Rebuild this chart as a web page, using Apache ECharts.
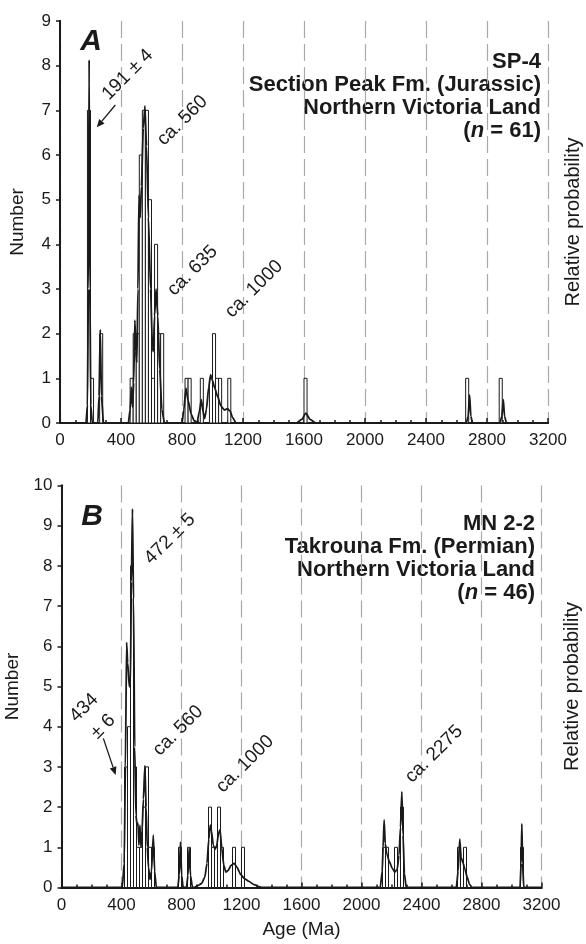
<!DOCTYPE html>
<html><head><meta charset="utf-8">
<script src="https://cdn.jsdelivr.net/npm/echarts@6/dist/echarts.min.js"></script>
<style>html,body{margin:0;padding:0;background:#fff}#c{width:586px;height:944px}</style>
</head><body><div id="c"></div>
<script>
// ---------- DATA ----------
const binWidth = 20; // Ma
// Panel A: SP-4
const binStartA = [180,200,260,460,480,500,520,540,560,580,600,620,640,660,820,840,920,980,1000,1020,1040,1100,1600,2660,2880];
const countA    = [7,1,2,1,2,2,6,7,7,5,1,4,2,2,1,1,1,1,2,1,1,1,1,1,1];
const curveAgeA = [0,170,180,186,191,196,202,212,248,256,264,272,285,448,460,468,476,483,491,498,504,511,518,526,534,546,557,567,580,594,606,612,620,630,641,654,668,685,800,812,826,840,860,880,900,913,927,938,948,960,975,988,1000,1015,1034,1055,1078,1098,1115,1132,1155,1550,1585,1612,1640,1678,2665,2676,2686,2694,2705,2885,2897,2907,2915,2928,3200];
const curveProbA= [0,0,0.4,3,8.13,3,0.4,0,0,0.6,2.09,0.6,0,0,0.3,0.8,0.35,0.9,2.3,1.6,1.35,3.0,5.1,4.6,5.3,6.6,7.1,6.2,4.6,3.0,1.7,1.6,2.4,3.0,2.4,1.2,0.3,0,0,0.3,0.78,0.5,0.2,0.05,0.02,0.25,0.52,0.25,0.1,0.3,0.8,1.08,0.95,0.78,0.59,0.38,0.29,0.32,0.27,0.12,0,0,0.08,0.22,0.08,0,0,0.15,0.63,0.15,0,0,0.15,0.52,0.15,0,0];
// Panel B: MN 2-2
const binStartB = [420,440,460,480,500,520,540,560,580,600,780,840,980,1000,1020,1040,1060,1140,1200,2140,2160,2220,2260,2640,2680,3060];
const countB    = [3,4,8,3,1,1,2,3,1,1,1,1,2,1,1,2,1,1,1,1,1,1,2,1,1,1];
const curveAgeB = [0,405,418,426,434,441,452,459,466,473,480,488,496,504,510,516,523,530,537,546,556,564,572,580,590,600,612,621,632,775,785,793,801,811,833,843,851,860,873,884,910,934,955,970,982,992,1000,1012,1024,1035,1047,1057,1068,1082,1096,1110,1130,1152,1170,1195,1220,1250,1280,1310,1335,2125,2138,2144,2151,2158,2168,2185,2205,2222,2238,2250,2260,2269,2277,2286,2298,2632,2644,2655,2664,2676,2690,2705,2720,2738,3057,3064,3069,3074,3082,3200];
const curveProbB= [0,0,0.6,3.0,6.1,5.6,5.0,5.0,7.6,9.42,7.2,3.5,1.8,1.55,1.6,1.05,1.55,1.0,1.4,2.2,3.03,2.0,1.0,0.5,0.2,0.4,1.3,0.4,0,0,0.3,1.13,0.3,0,0,0.3,0.98,0.3,0,0,0.05,0.1,0.25,0.6,1.2,1.55,1.4,1.05,0.95,1.05,1.35,1.43,1.0,0.55,0.38,0.42,0.55,0.6,0.5,0.32,0.22,0.15,0.08,0.03,0,0,0.4,1.0,1.68,1.1,0.85,0.65,0.48,0.38,0.45,0.8,1.5,2.38,1.3,0.35,0,0,0.4,1.2,0.75,0.62,0.45,0.25,0.08,0,0,0.6,1.58,0.6,0,0];
// annotations: text, age, number
const annTextA = ['191 ± 4','ca. 560','ca. 635','ca. 1000'];
const annAgeA  = [443,803,869,1272];
const annNumA  = [7.8,6.77,3.41,3.0];
const annTextB = ['472 ± 5','434','± 6','ca. 560','ca. 1000','ca. 2275'];
const annAgeB  = [723,150,277,777,1223,2483];
const annNumB  = [8.67,4.47,4.0,3.9,3.07,3.32];
const arrowA = [[363,7.12],[241,6.62]];
const arrowB = [[279,3.71],[361,2.8]];

// ---------- CHART ----------
const FONT = '"Liberation Sans", Arial, Helvetica, sans-serif';
const INK = '#1a1a1a';
const chart = echarts.init(document.getElementById('c'), null, {renderer:'canvas'});

function xAxisCfg(gi, showName){
  return {
    gridIndex: gi, type:'value', min:0, max:3200, interval:400,
    axisLine:{show:true, onZero:false, lineStyle:{color:INK, width:2}},
    axisTick:{show:true, inside:true, length:5, lineStyle:{color:INK, width:1.5}},
    minorTick:{show:true, splitNumber:4, length:3, lineStyle:{color:INK, width:1.5}},
    splitLine:{show:true, lineStyle:{color:'#a9a9a9', width:1.2, type:[17,6]}},
    axisLabel:{color:INK, fontSize:17, fontFamily:FONT, margin:9, formatter:(v)=>String(v)},
    name: showName ? 'Age (Ma)' : '', nameLocation:'middle', nameGap:33,
    nameTextStyle:{color:INK, fontSize:19, fontFamily:FONT}
  };
}
function yLeft(gi, max){
  return {
    gridIndex: gi, type:'value', min:0, max:max, interval:1,
    axisLine:{show:true, lineStyle:{color:INK, width:2}},
    axisTick:{show:true, inside:false, length:4, lineStyle:{color:INK, width:1.5}},
    splitLine:{show:false},
    axisLabel:{color:INK, fontSize:17, fontFamily:FONT, margin:9},
    name:'Number', nameLocation:'middle', nameGap:33,
    nameTextStyle:{color:INK, fontSize:19, fontFamily:FONT}
  };
}
function yRight(gi, max, gap){
  return {
    gridIndex: gi, type:'value', min:0, max:max, position:'right',
    axisLine:{show:true, lineStyle:{color:INK, width:2}},
    axisTick:{show:false}, axisLabel:{show:false}, splitLine:{show:false},
    name:'Relative probability', nameLocation:'middle', nameGap:gap, nameRotate:90,
    nameTextStyle:{color:INK, fontSize:20, fontFamily:FONT}
  };
}
function histSeries(idx, bins, counts){
  return {
    type:'custom', xAxisIndex:idx, yAxisIndex:idx*2, z:2,
    data: bins.map((b,i)=>[b, counts[i]]),
    renderItem:(params, api)=>{
      const x0 = api.value(0), c = api.value(1);
      const p0 = api.coord([x0, c]), p1 = api.coord([x0+binWidth, 0]);
      return {type:'rect', shape:{x:p0[0], y:p0[1], width:p1[0]-p0[0], height:p1[1]-p0[1]},
        style:{fill:'#fff', stroke:INK, lineWidth:1}};
    }
  };
}
function curveSeries(idx, ages, probs){
  return {
    type:'line', xAxisIndex:idx, yAxisIndex:idx*2+1, z:3,
    data: ages.map((a,i)=>[a, probs[i]]),
    showSymbol:false, smooth:0.2, smoothMonotone:'x',
    lineStyle:{color:INK, width:1.8}, silent:true
  };
}
function annSeries(idx, texts, ages, nums){
  return {
    type:'custom', xAxisIndex:idx, yAxisIndex:idx*2, z:5, clip:false, silent:true,
    data: ages.map((a,i)=>[a, nums[i]]),
    renderItem:(params, api)=>{
      const p = api.coord([api.value(0), api.value(1)]);
      return {type:'text', x:p[0], y:p[1], rotation:Math.PI/4,
        style:{text:texts[params.dataIndex], font:'19px '+FONT, fill:INK,
          textAlign:'center', textVerticalAlign:'middle', align:'center', verticalAlign:'middle'}};
    }
  };
}
function arrowSeries(idx, pts){
  return {
    type:'custom', xAxisIndex:idx, yAxisIndex:idx*2, z:5, clip:false, silent:true,
    data:[[pts[0][0], pts[0][1], pts[1][0], pts[1][1]]],
    renderItem:(params, api)=>{
      const a = api.coord([api.value(0), api.value(1)]);
      const b = api.coord([api.value(2), api.value(3)]);
      const ang = Math.atan2(b[1]-a[1], b[0]-a[0]);
      const L = 8, W = 3.5;
      const bx = b[0]-L*Math.cos(ang), by = b[1]-L*Math.sin(ang);
      const px = -Math.sin(ang)*W, py = Math.cos(ang)*W;
      return {type:'group', children:[
        {type:'line', shape:{x1:a[0], y1:a[1], x2:bx, y2:by}, style:{stroke:INK, lineWidth:1.3}},
        {type:'polygon', shape:{points:[[b[0],b[1]],[bx+px,by+py],[bx-px,by-py]]}, style:{fill:INK}}
      ]};
    }
  };
}

const TS = 22;
const titleFont = 'bold '+TS+'px '+FONT;
function titleLines(x, y0, lines, nStr){
  const out = lines.map((t,i)=>({type:'text', x:x, y:y0+i*23,
    style:{text:t, font:titleFont, fill:INK, textAlign:'right', textVerticalAlign:'middle'}}));
  out.push({type:'text', x:x, y:y0+lines.length*23,
    style:{text:'{b|(}{i|n}{b| = '+nStr+')}', textAlign:'right', textVerticalAlign:'middle',
      rich:{b:{font:titleFont, fill:INK}, i:{font:'bold italic '+TS+'px '+FONT, fill:INK}}}});
  return out;
}

const option = {
  backgroundColor:'#fff',
  animation:false,
  grid:[
    {left:60, top:21, width:488, height:402, show:false, containLabel:false, outerBoundsMode:'none'},
    {left:61.5, top:485.5, width:480, height:402, show:false, containLabel:false, outerBoundsMode:'none'}
  ],
  xAxis:[xAxisCfg(0,false), xAxisCfg(1,true),
    {gridIndex:0, type:'value', min:0, max:3200, position:'top', axisLine:{show:true, lineStyle:{color:INK,width:2}}, axisTick:{show:false}, axisLabel:{show:false}, splitLine:{show:false}},
    {gridIndex:1, type:'value', min:0, max:3200, position:'top', axisLine:{show:true, lineStyle:{color:INK,width:2}}, axisTick:{show:false}, axisLabel:{show:false}, splitLine:{show:false}}
  ],
  yAxis:[yLeft(0,9), yRight(0,9,15), yLeft(1,10), yRight(1,10,21)],
  series:[
    histSeries(0, binStartA, countA),
    curveSeries(0, curveAgeA, curveProbA),
    annSeries(0, annTextA, annAgeA, annNumA),
    arrowSeries(0, arrowA),
    histSeries(1, binStartB, countB),
    curveSeries(1, curveAgeB, curveProbB),
    annSeries(1, annTextB, annAgeB, annNumB),
    arrowSeries(1, arrowB)
  ],
  graphic:[
    {type:'text', x:91, y:42, style:{text:'A', font:'bold italic 30px '+FONT, fill:INK, textAlign:'center', textVerticalAlign:'middle'}},
    {type:'text', x:92, y:517, style:{text:'B', font:'bold italic 30px '+FONT, fill:INK, textAlign:'center', textVerticalAlign:'middle'}},
    ...titleLines(541, 62, ['SP-4','Section Peak Fm. (Jurassic)','Northern Victoria Land'], '61'),
    ...titleLines(535, 524, ['MN 2-2','Takrouna Fm. (Permian)','Northern Victoria Land'], '46')
  ]
};
chart.setOption(option);
</script>
</body></html>
